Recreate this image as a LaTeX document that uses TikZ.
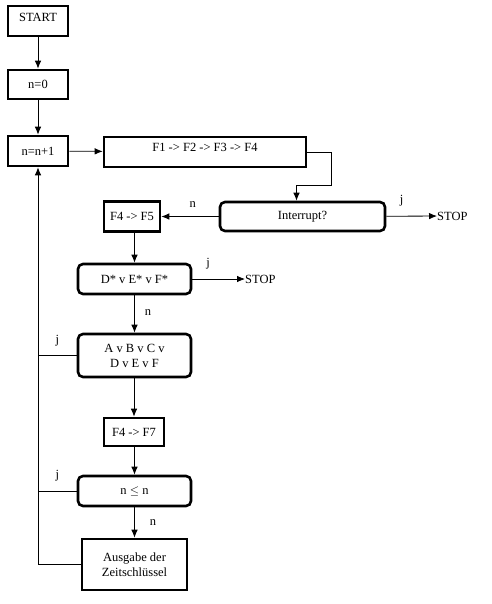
\documentclass[tikz,border=0pt]{standalone}
\usepackage{fontspec}
\setmainfont{Liberation Serif}
\usetikzlibrary{arrows.meta}
\begin{document}
\begin{tikzpicture}[x=1pt,y=-1pt,
  font=\fontsize{12.5}{15}\selectfont,
  box/.style={draw, line width=2.6pt, inner sep=0pt, align=center},
  rbox/.style={box, rounded corners=5pt},
  arr/.style={-{Latex[length=8pt,width=6.5pt]}, line width=0.8pt},
  ln/.style={line width=0.8pt},
  lbl/.style={inner sep=0pt}]
\useasboundingbox (0,0) rectangle (491,604);
\node[box, minimum width=60pt, minimum height=30pt, text depth=8pt] (start) at (38,21) {START};
\node[box, minimum width=60pt, minimum height=29pt] (n0) at (38,84.5) {n=0};
\node[box, minimum width=60pt, minimum height=30pt] (n1) at (38,151) {n=n+1};
\node[box, minimum width=202pt, minimum height=30pt, text depth=10pt] (f1) at (205,152) {F1 -> F2 -> F3 -> F4};
\node[rbox, minimum width=165pt, minimum height=29pt] (intr) at (302.5,216.5) {Interrupt?};
\node[box, minimum width=56pt, minimum height=30pt] (f45) at (132,216.5) {F4 -> F5};
\node[rbox, minimum width=113pt, minimum height=30pt] (dst) at (134.5,279) {D* v E* v F*};
\node[rbox, minimum width=113pt, minimum height=43pt] (avb) at (134.5,355.5) {A v B v C v\\D v E v F};
\node[box, minimum width=60pt, minimum height=28pt] (f47) at (134,432) {F4 -> F7};
\node[rbox, minimum width=113pt, minimum height=30pt] (nle) at (134.5,491) {n $\leq$ n};
\node[box, minimum width=105pt, minimum height=51pt] (aus) at (134.5,564.5) {Ausgabe der\\Zeitschlüssel};
\node[lbl, anchor=west] (stop1) at (437,216) {STOP};
\node[lbl, anchor=west] (stop2) at (245,279) {STOP};
\coordinate (bend) at (331,185);
\draw[arr] (start) -- (n0);
\draw[arr] (n0) -- (n1);
\draw[arr] (n1) -- (f1);
\draw[arr] (f1.east) -| (bend) -| ([xshift=-6pt]intr.north);
\draw[arr] (intr) -- node[lbl, above=9pt, pos=0.45] {n} (f45);
\draw[arr] (intr) -- node[lbl, above=10pt, pos=0.3] {j} (stop1);
\draw[arr] (f45.south -| dst.north) -- (dst);
\draw[arr] (dst) -- node[lbl, above=9pt, pos=0.3] {j} (stop2);
\draw[arr] (dst) -- node[lbl, right=10pt, pos=0.45] {n} (avb);
\draw[arr] (avb.south -| f47.north) -- (f47);
\draw[arr] (f47.south -| nle.north) -- (nle);
\draw[arr] (nle) -- node[lbl, right=15pt, pos=0.5] {n} (aus);
\draw[arr] (aus.west) -| (n1.south);
\draw[ln] (avb.west) -- node[lbl, above=9pt, pos=0.5] {j} (avb.west -| n1.south);
\draw[ln] (nle.west) -- node[lbl, above=9pt, pos=0.5] {j} (nle.west -| n1.south);
\end{tikzpicture}
\end{document}
